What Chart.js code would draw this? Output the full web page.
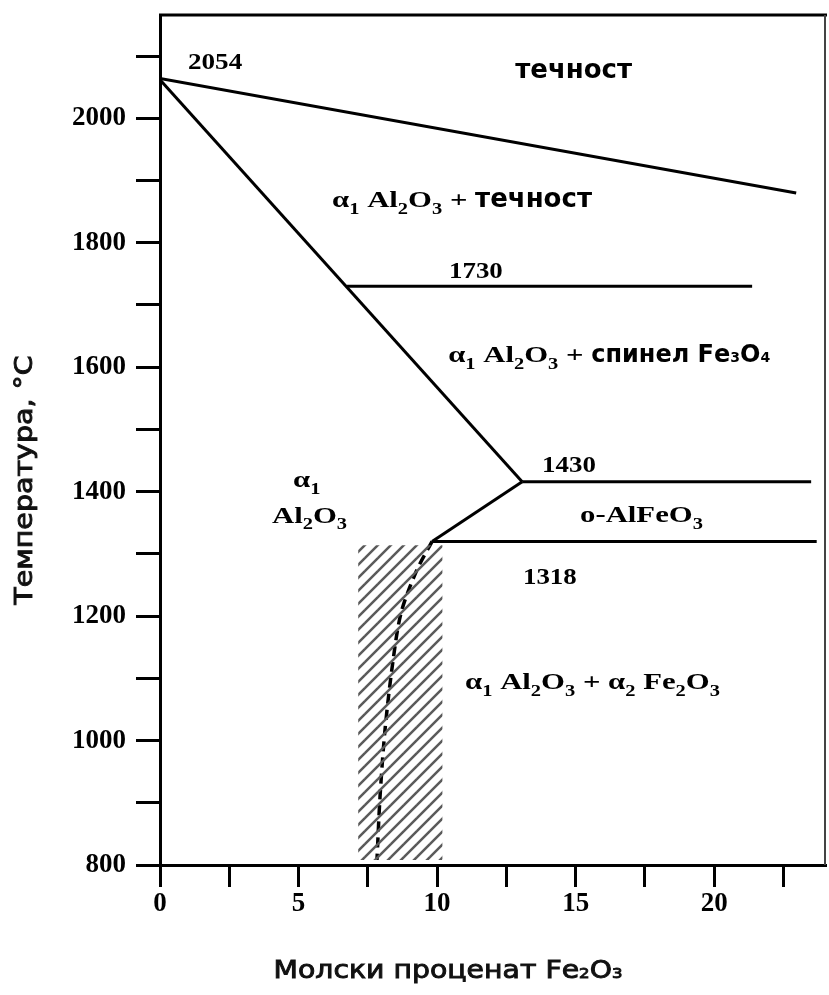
<!DOCTYPE html>
<html>
<head>
<meta charset="utf-8">
<script src="https://cdn.jsdelivr.net/npm/chart.js@4.4.1/dist/chart.umd.min.js"></script>
<style>
html,body{margin:0;padding:0;background:#fff;}
canvas{display:block;}
</style>
</head>
<body>
<canvas id="c" width="829" height="995"></canvas>
<script>
// ---- data (mol % Fe2O3, temperature °C) ----
const liquidusX = [0, 22.96];
const liquidusY = [2064, 1880];
const solvusX = [0, 13.07];
const solvusY = [2062, 1416];
const line1730X = [6.75, 21.37];
const line1730Y = [1730, 1730];
const line1430X = [13.07, 23.5];
const line1430Y = [1416, 1416];
const line1318X = [9.82, 23.7];
const line1318Y = [1320, 1320];
const alfeoX = [9.82, 13.07];
const alfeoY = [1320, 1416];
const dashedX = [9.82, 9.25, 8.70, 8.40, 8.12, 7.94, 7.83];
const dashedY = [1320, 1272, 1205, 1125, 1017, 909, 808];
const hatchX = [7.15, 10.2];
const hatchTop = 1314;
const hatchBottom = 808;

const xTickLabels = [0, 5, 10, 15, 20];
const yTickLabels = [800, 1000, 1200, 1400, 1600, 1800, 2000];

const xTitle = "Молски проценат Fe~2O~3";
const yTitle = "Температура, °C";

// region labels: markup (_ = subscript, ~ = small digit, ^S sans, ^R serif), x/y in data units (left, baseline)
const regionText = ["2054", "^Sтечност", "α_1 Al_2O_3 + ^Sтечност", "1730",
  "α_1 Al_2O_3 + ^Sспинел Fe~3O~4", "1430", "o-AlFeO_3", "1318",
  "α_1 Al_2O_3 + α_2 Fe_2O_3", "α_1", "Al_2O_3"];
const regionX = [1.01, 12.82, 6.21, 10.43, 10.40, 13.79, 15.16, 13.1, 11.01, 4.80, 4.04];
const regionY = [2079, 2065, 1857, 1743, 1608, 1431, 1351, 1251, 1083, 1407, 1350];
// text styling per label (serif size, sans size, horizontal stretch of serif)
const regionStyle = [
  {serif:24, sans:26, k:1.13}, {serif:24, sans:26, k:1.0}, {serif:24, sans:26, k:1.28}, {serif:24, sans:26, k:1.12},
  {serif:24, sans:24, k:1.28}, {serif:24, sans:26, k:1.12}, {serif:24, sans:26, k:1.28}, {serif:24, sans:26, k:1.12},
  {serif:24, sans:26, k:1.28}, {serif:24, sans:26, k:1.28}, {serif:24, sans:26, k:1.28}
];

function pts(xs, ys){ return xs.map((x,i)=>({x:x, y:ys[i]})); }

// hatch pattern
function makePattern(){
  const s = 13;
  const c = document.createElement('canvas');
  c.width = s; c.height = s;
  const g = c.getContext('2d');
  g.strokeStyle = '#5a5a5a';
  g.lineWidth = 2.5;
  g.lineCap = 'square';
  g.beginPath();
  g.moveTo(-3, s+3); g.lineTo(s+3, -3);
  g.stroke();
  g.beginPath();
  g.moveTo(-3, 3); g.lineTo(3, -3);
  g.moveTo(s-3, s+3); g.lineTo(s+3, s-3);
  g.stroke();
  return document.getElementById('c').getContext('2d').createPattern(c, 'repeat');
}

const SERIF = '"Liberation Serif", "Times New Roman", serif';
const SANS = '"DejaVu Sans", Verdana, sans-serif';

function drawRich(ctx, text, x, y, o){
  const serifSize = o.serif || 24, sansSize = o.sans || 26;
  const k = o.k || 1, ks = o.ks || 1;
  const sansWeight = o.sansWeight || 'bold';
  let sans = !!o.startSans;
  const segs = [];
  for (let i=0;i<text.length;i++){
    const ch = text[i];
    if (ch === '^'){ sans = text[i+1] === 'S'; i++; continue; }
    let mode = 'n', c = ch;
    if (ch === '_'){ mode='sub'; c = text[++i]; }
    else if (ch === '~'){ mode='small'; c = text[++i]; }
    segs.push({c, mode, sans});
  }
  function fontFor(s){
    if (s.sans){
      const sz = s.mode==='n' ? sansSize : Math.round(sansSize*0.6);
      return sansWeight + ' ' + sz + 'px ' + SANS;
    }
    const sz = s.mode==='n' ? serifSize : Math.round(serifSize*0.68);
    return 'bold ' + sz + 'px ' + SERIF;
  }
  function wOf(s){ ctx.font = fontFor(s); return ctx.measureText(s.c).width * (s.sans ? ks : k); }
  let cx = x;
  if (o.align === 'center'){
    let w = 0; for (const s of segs) w += wOf(s);
    cx = x - w/2;
  }
  ctx.textBaseline = 'alphabetic';
  ctx.textAlign = 'left';
  for (const s of segs){
    const w = wOf(s);
    ctx.font = fontFor(s);
    let dy = 0;
    if (s.mode==='sub') dy = s.sans ? sansSize*0.22 : serifSize*0.28;
    ctx.save();
    ctx.translate(cx, y + dy);
    ctx.scale(s.sans ? ks : k, 1);
    ctx.fillText(s.c, 0, 0);
    if (o.stroke){ ctx.lineWidth = o.stroke; ctx.strokeStyle = ctx.fillStyle; ctx.strokeText(s.c, 0, 0); }
    ctx.restore();
    cx += w;
  }
}

const decorPlugin = {
  id: 'decor',
  afterDraw(chart){
    const ctx = chart.ctx, a = chart.chartArea;
    const xs = chart.scales.x, ys = chart.scales.y;
    ctx.save();
    // frame top & right
    ctx.strokeStyle = '#000'; ctx.lineWidth = 3;
    ctx.beginPath(); ctx.moveTo(a.left-1, a.top); ctx.lineTo(a.right+2, a.top); ctx.stroke();
    ctx.strokeStyle = '#444'; ctx.lineWidth = 2;
    ctx.beginPath(); ctx.moveTo(a.right, a.top); ctx.lineTo(a.right, a.bottom); ctx.stroke();
    // region labels
    ctx.fillStyle = '#000';
    regionText.forEach((t,i)=>{
      drawRich(ctx, t, xs.getPixelForValue(regionX[i]), ys.getPixelForValue(regionY[i]), regionStyle[i]);
    });
    // axis titles
    ctx.fillStyle = '#111';
    drawRich(ctx, xTitle, a.left + 288, a.bottom + 113, {align:'center', startSans:true, sans:24, ks:1.18, sansWeight:'normal', stroke:0.9});
    ctx.save();
    ctx.translate(a.left - 128, a.top + 465);
    ctx.rotate(-Math.PI/2);
    drawRich(ctx, yTitle, 0, 0, {align:'center', startSans:true, sans:25, ks:1.14, sansWeight:'normal', stroke:0.9});
    ctx.restore();
    ctx.restore();
  }
};

const lineStyle = {showLine:true, borderColor:'#000', borderWidth:3, pointRadius:0, fill:false, tension:0};

new Chart(document.getElementById('c'), {
  type: 'scatter',
  data: {
    datasets: [
      {data: [{x:hatchX[0], y:hatchTop},{x:hatchX[1], y:hatchTop}], showLine:true, borderWidth:0, borderColor:'rgba(0,0,0,0)', pointRadius:0, backgroundColor: makePattern(), fill:{value: hatchBottom}},
      Object.assign({}, lineStyle, {data: pts(liquidusX, liquidusY)}),
      Object.assign({}, lineStyle, {data: pts(solvusX, solvusY)}),
      Object.assign({}, lineStyle, {data: pts(line1730X, line1730Y)}),
      Object.assign({}, lineStyle, {data: pts(line1430X, line1430Y)}),
      Object.assign({}, lineStyle, {data: pts(line1318X, line1318Y)}),
      Object.assign({}, lineStyle, {data: pts(alfeoX, alfeoY)}),
      Object.assign({}, lineStyle, {data: pts(dashedX, dashedY), borderDash:[10,6], borderWidth:3.5, tension:0.3})
    ]
  },
  options: {
    responsive: false,
    animation: false,
    layout: {padding: {left:0, right:4, top:15, bottom:0}},
    plugins: {legend:{display:false}, tooltip:{enabled:false}},
    scales: {
      x: {
        type:'linear', min:0, max:24,
        afterFit(s){ s.height = 130; s.paddingLeft = 0; s.paddingRight = 0; },
        ticks:{stepSize:2.5, includeBounds:false, autoSkip:false, maxRotation:0, padding:1,
          color:'#000', font:{family:SERIF, weight:'bold', size:27},
          callback:(v)=> xTickLabels.includes(v) ? String(v) : ''},
        grid:{drawOnChartArea:false, drawTicks:true, tickLength:22, lineWidth:3, color:'#000'},
        border:{display:true, width:3, color:'#000'}
      },
      y: {
        type:'linear', min:800, max:2166,
        afterFit(s){ s.width = 160; s.paddingTop = 0; s.paddingBottom = 0; },
        ticks:{stepSize:100, includeBounds:false, autoSkip:false, padding:10,
          color:'#000', font:{family:SERIF, weight:'bold', size:27},
          callback:(v)=> yTickLabels.includes(v) ? String(v) : ''},
        grid:{drawOnChartArea:false, drawTicks:true, tickLength:24, lineWidth:3, color:'#000'},
        border:{display:true, width:3, color:'#000'}
      }
    }
  },
  plugins: [decorPlugin]
});
</script>
</body>
</html>
